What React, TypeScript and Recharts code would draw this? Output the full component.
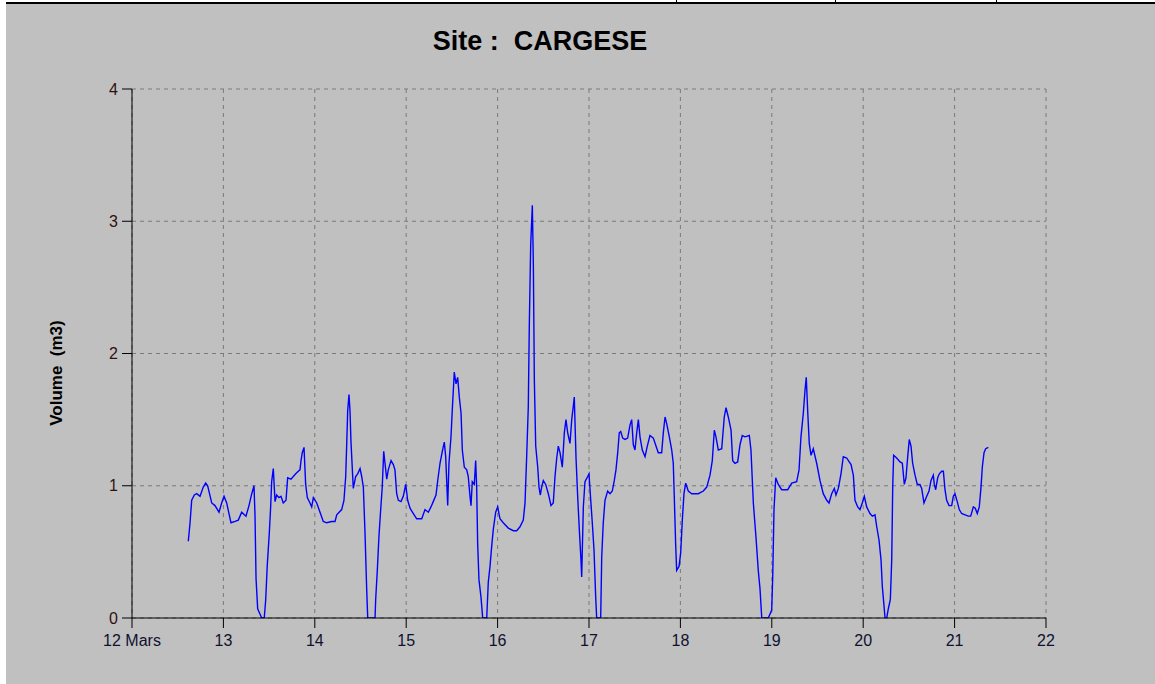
import React from 'react';
import { LineChart, Line, XAxis, YAxis, CartesianGrid } from 'recharts';

const title = 'Site :  CARGESE';
const yLabel = 'Volume  (m3)';
const xTicks = [12, 13, 14, 15, 16, 17, 18, 19, 20, 21, 22];
const yTicks = [0, 1, 2, 3, 4];

const days = [
  12.616, 12.635, 12.653, 12.682, 12.708, 12.744, 12.780, 12.806, 12.828, 12.872,
  12.908, 12.952, 12.981, 13.007, 13.036, 13.083, 13.127, 13.163, 13.200, 13.247,
  13.280, 13.310, 13.335, 13.346, 13.357, 13.375, 13.419, 13.447, 13.463, 13.480,
  13.502, 13.517, 13.528, 13.546, 13.565, 13.583, 13.608, 13.630, 13.655, 13.685,
  13.703, 13.740, 13.765, 13.791, 13.819, 13.838, 13.849, 13.863, 13.882, 13.900,
  13.918, 13.947, 13.966, 13.984, 14.021, 14.057, 14.093, 14.130, 14.185, 14.221,
  14.240, 14.294, 14.319, 14.338, 14.349, 14.360, 14.374, 14.385, 14.396, 14.421,
  14.447, 14.469, 14.495, 14.513, 14.531, 14.549, 14.568, 14.579, 14.659, 14.666,
  14.684, 14.702, 14.721, 14.738, 14.754, 14.768, 14.787, 14.804, 14.834, 14.859,
  14.877, 14.896, 14.914, 14.943, 14.968, 14.995, 15.016, 15.042, 15.078, 15.115,
  15.170, 15.206, 15.242, 15.271, 15.296, 15.326, 15.345, 15.370, 15.395, 15.417,
  15.432, 15.454, 15.468, 15.490, 15.504, 15.526, 15.545, 15.563, 15.581, 15.600,
  15.614, 15.636, 15.662, 15.679, 15.698, 15.709, 15.723, 15.745, 15.760, 15.771,
  15.782, 15.796, 15.818, 15.837, 15.881, 15.898, 15.917, 15.935, 15.953, 15.979,
  16.001, 16.026, 16.062, 16.117, 16.172, 16.209, 16.245, 16.281, 16.300, 16.318,
  16.336, 16.347, 16.362, 16.380, 16.391, 16.402, 16.417, 16.439, 16.453, 16.467,
  16.482, 16.500, 16.526, 16.555, 16.584, 16.609, 16.628, 16.647, 16.664, 16.683,
  16.708, 16.730, 16.748, 16.767, 16.792, 16.811, 16.828, 16.839, 16.858, 16.876,
  16.894, 16.912, 16.920, 16.938, 16.956, 16.986, 17.000, 17.019, 17.036, 17.055,
  17.073, 17.084, 17.128, 17.139, 17.156, 17.175, 17.204, 17.230, 17.255, 17.277,
  17.295, 17.314, 17.331, 17.347, 17.369, 17.394, 17.423, 17.449, 17.467, 17.485,
  17.503, 17.522, 17.540, 17.558, 17.583, 17.613, 17.638, 17.667, 17.704, 17.733,
  17.758, 17.795, 17.813, 17.832, 17.850, 17.879, 17.905, 17.922, 17.933, 17.948,
  17.959, 17.985, 18.003, 18.021, 18.039, 18.058, 18.086, 18.124, 18.196, 18.251,
  18.288, 18.324, 18.349, 18.371, 18.389, 18.415, 18.452, 18.480, 18.499, 18.524,
  18.554, 18.572, 18.597, 18.627, 18.652, 18.677, 18.707, 18.754, 18.772, 18.798,
  18.827, 18.852, 18.871, 18.890, 18.962, 18.999, 19.010, 19.024, 19.043, 19.071,
  19.108, 19.174, 19.218, 19.272, 19.298, 19.319, 19.345, 19.363, 19.377, 19.393,
  19.410, 19.429, 19.454, 19.491, 19.527, 19.563, 19.601, 19.626, 19.655, 19.684,
  19.702, 19.728, 19.757, 19.782, 19.819, 19.867, 19.892, 19.910, 19.940, 19.965,
  19.990, 20.012, 20.038, 20.074, 20.100, 20.129, 20.148, 20.173, 20.195, 20.209,
  20.228, 20.239, 20.257, 20.275, 20.297, 20.312, 20.323, 20.333, 20.366, 20.403,
  20.428, 20.450, 20.468, 20.487, 20.504, 20.523, 20.541, 20.567, 20.592, 20.621,
  20.640, 20.665, 20.695, 20.720, 20.742, 20.767, 20.778, 20.793, 20.815, 20.833,
  20.859, 20.877, 20.895, 20.913, 20.939, 20.968, 20.986, 21.004, 21.029, 21.051,
  21.077, 21.114, 21.150, 21.176, 21.205, 21.226, 21.248, 21.270, 21.289, 21.303,
  21.322, 21.340, 21.369,
];

const volume = [
  0.58, 0.72, 0.89, 0.93, 0.94, 0.92, 0.99, 1.02, 1.00, 0.87,
  0.85, 0.80, 0.87, 0.92, 0.87, 0.72, 0.73, 0.74, 0.80, 0.77,
  0.85, 0.94, 1.00, 0.77, 0.30, 0.07, 0.00, 0.00, 0.14, 0.40,
  0.64, 0.84, 1.03, 1.13, 0.88, 0.93, 0.91, 0.92, 0.87, 0.89,
  1.06, 1.05, 1.07, 1.09, 1.11, 1.12, 1.19, 1.25, 1.29, 1.01,
  0.91, 0.87, 0.84, 0.91, 0.87, 0.80, 0.73, 0.72, 0.73, 0.73,
  0.78, 0.82, 0.89, 1.07, 1.31, 1.57, 1.69, 1.57, 1.33, 0.98,
  1.07, 1.09, 1.13, 1.07, 0.99, 0.65, 0.21, 0.00, 0.00, 0.14,
  0.36, 0.62, 0.82, 0.99, 1.26, 1.17, 1.05, 1.12, 1.19, 1.16,
  1.12, 0.94, 0.89, 0.88, 0.92, 1.01, 0.89, 0.83, 0.79, 0.75,
  0.75, 0.82, 0.80, 0.84, 0.88, 0.93, 1.04, 1.17, 1.26, 1.33,
  1.22, 0.85, 1.17, 1.37, 1.57, 1.86, 1.77, 1.82, 1.67, 1.55,
  1.27, 1.14, 1.12, 1.07, 0.92, 0.85, 1.03, 1.01, 1.19, 0.99,
  0.56, 0.29, 0.16, 0.00, 0.00, 0.27, 0.39, 0.54, 0.67, 0.80,
  0.84, 0.75, 0.72, 0.68, 0.66, 0.66, 0.69, 0.74, 0.87, 1.22,
  1.60, 2.22, 2.82, 3.12, 2.68, 1.80, 1.30, 1.14, 0.99, 0.93,
  0.99, 1.04, 1.01, 0.94, 0.85, 0.87, 1.07, 1.21, 1.30, 1.25,
  1.14, 1.40, 1.50, 1.40, 1.32, 1.50, 1.60, 1.67, 1.21, 0.92,
  0.67, 0.44, 0.31, 0.84, 1.03, 1.07, 1.09, 0.89, 0.72, 0.51,
  0.16, 0.00, 0.00, 0.46, 0.72, 0.89, 0.96, 0.94, 0.96, 1.04,
  1.12, 1.25, 1.40, 1.41, 1.36, 1.35, 1.36, 1.46, 1.50, 1.31,
  1.27, 1.40, 1.50, 1.37, 1.27, 1.22, 1.30, 1.38, 1.36, 1.30,
  1.25, 1.25, 1.40, 1.52, 1.47, 1.37, 1.27, 1.17, 0.92, 0.56,
  0.36, 0.39, 0.49, 0.74, 0.94, 1.02, 0.96, 0.94, 0.94, 0.96,
  0.99, 1.08, 1.19, 1.42, 1.37, 1.27, 1.28, 1.52, 1.59, 1.52,
  1.42, 1.19, 1.17, 1.18, 1.31, 1.38, 1.37, 1.38, 1.27, 0.87,
  0.61, 0.36, 0.22, 0.00, 0.00, 0.06, 0.31, 0.82, 1.06, 1.01,
  0.97, 0.97, 1.02, 1.03, 1.12, 1.37, 1.55, 1.72, 1.82, 1.56,
  1.32, 1.23, 1.28, 1.17, 1.04, 0.94, 0.89, 0.87, 0.94, 0.98,
  0.93, 0.98, 1.09, 1.22, 1.21, 1.16, 1.08, 0.89, 0.84, 0.82,
  0.87, 0.92, 0.84, 0.79, 0.77, 0.78, 0.69, 0.59, 0.44, 0.24,
  0.09, 0.00, 0.00, 0.07, 0.14, 0.44, 0.99, 1.23, 1.21, 1.18,
  1.17, 1.01, 1.06, 1.22, 1.35, 1.30, 1.17, 1.08, 1.01, 1.01,
  0.98, 0.87, 0.92, 0.96, 1.04, 1.08, 1.01, 0.97, 1.06, 1.09,
  1.11, 1.11, 0.97, 0.89, 0.85, 0.85, 0.92, 0.94, 0.88, 0.82,
  0.79, 0.78, 0.77, 0.77, 0.84, 0.83, 0.79, 0.84, 0.99, 1.14,
  1.25, 1.28, 1.29,
];

const data = days.map((d, i) => ({ day: d, volume: volume[i] }));

const fontFamily = '"Liberation Sans", Arial, sans-serif';

export default function App() {
  return (
    <div style={{ position: 'absolute', left: 0, top: 0, width: 1155, height: 684, background: '#ffffff', overflow: 'hidden', fontFamily }}>
      <div style={{ position: 'absolute', left: 6, top: 2, width: 1149, height: 2, background: '#000' }} />
      <div style={{ position: 'absolute', left: 676, top: 0, width: 1, height: 3, background: '#000' }} />
      <div style={{ position: 'absolute', left: 835, top: 0, width: 1, height: 3, background: '#000' }} />
      <div style={{ position: 'absolute', left: 996, top: 0, width: 1, height: 3, background: '#000' }} />
      <div style={{ position: 'absolute', left: 6, top: 4, width: 1149, height: 680, background: '#c0c0c0' }} />
      <div style={{ position: 'absolute', left: 340, top: 24, width: 400, textAlign: 'center', fontSize: 27, fontWeight: 'bold', color: '#000', whiteSpace: 'pre', lineHeight: '34px' }}>
        {title}
      </div>
      <div style={{ position: 'absolute', left: 57 - 100, top: 373 - 10, width: 200, height: 20, textAlign: 'center', fontSize: 17, fontWeight: 'bold', color: '#000', whiteSpace: 'pre', lineHeight: '20px', transform: 'rotate(-90deg)' }}>
        {yLabel}
      </div>
      <div style={{ position: 'absolute', left: 0, top: 0 }}>
        <LineChart width={1155} height={684} data={data} margin={{ top: 89, right: 109, bottom: 36, left: 82 }}>
          <CartesianGrid stroke="#7a7a7a" strokeDasharray="4 4" />
          <XAxis
            dataKey="day"
            type="number"
            domain={[12, 22]}
            ticks={xTicks}
            interval={0}
            tickFormatter={(v: number) => (v === 12 ? '12 Mars' : String(v))}
            tickSize={10}
            tickMargin={7}
            height={30}
            stroke="#000"
            tick={{ fill: '#101030', fontSize: 16, fontFamily }}
            allowDataOverflow
          />
          <YAxis
            type="number"
            domain={[0, 4]}
            ticks={yTicks}
            interval={0}
            tickSize={10}
            tickMargin={4}
            width={50}
            stroke="#000"
            tick={{ fill: '#301010', fontSize: 16, fontFamily }}
            allowDataOverflow
          />
          <Line type="linear" dataKey="volume" stroke="#0000ff" strokeWidth={1.4} dot={false} isAnimationActive={false} />
        </LineChart>
      </div>
    </div>
  );
}
